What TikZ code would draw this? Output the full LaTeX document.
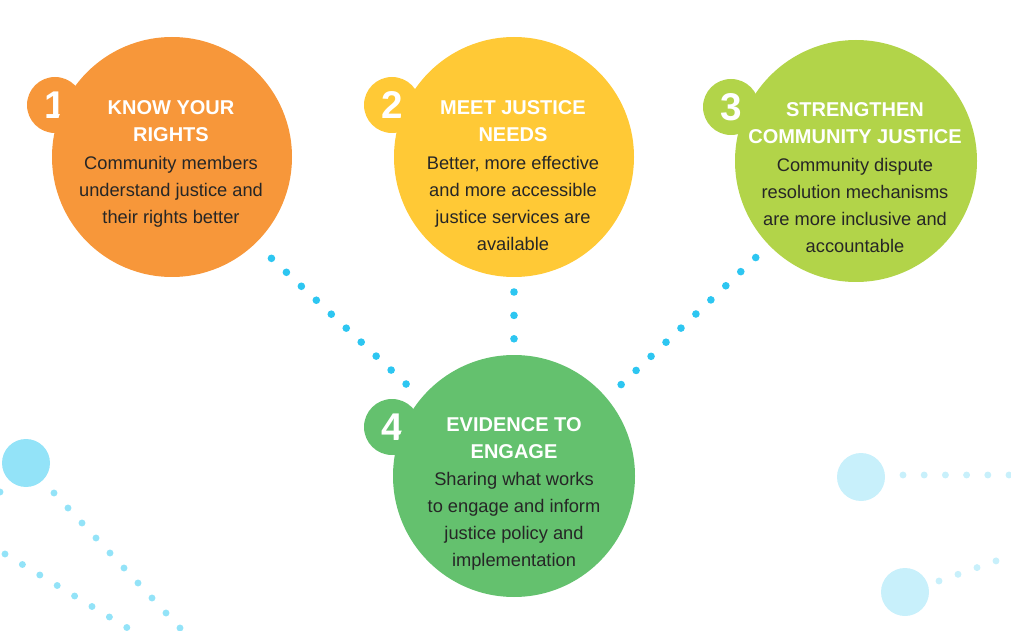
\documentclass[tikz,border=0pt]{standalone}
\usepackage{fontspec}
\setmainfont{Liberation Sans}
\usetikzlibrary{positioning}

\definecolor{rightsorange}{HTML}{F7973A}
\definecolor{needsyellow}{HTML}{FFC936}
\definecolor{communitylime}{HTML}{B2D449}
\definecolor{evidencegreen}{HTML}{64C16E}
\definecolor{dotblue}{HTML}{2DC6F1}
\definecolor{paleblue}{HTML}{93E3F8}
\definecolor{faintblue}{HTML}{C8F0FB}
\definecolor{bodytext}{HTML}{262626}

\begin{document}
\begin{tikzpicture}[x=0.75pt,y=-0.75pt,
			bubble/.style={circle,inner sep=0pt,outer sep=0pt,minimum size=180pt},
			badge/.style={circle,inner sep=0pt,minimum size=42pt,text=white,
				font=\fontsize{29}{30}\selectfont\bfseries},
			title/.style={align=center,text=white,inner sep=0pt,anchor=base,
				font=\fontsize{15}{20.25}\selectfont\bfseries},
			body/.style={align=center,text=bodytext,inner sep=0pt,
				font=\fontsize{13.7}{20.1}\selectfont},
			dotline/.style={draw=dotblue,line width=5.7pt,line cap=round}]
			
			\useasboundingbox (0,0) rectangle (1011,631);
			\clip (0,0) rectangle (1011,631);
			
			% background decoration
			\fill[paleblue] (26,463) circle (18pt);
			\fill[paleblue] (0,492) circle (2.6pt);
			\foreach \k in {0,...,9}
				\fill[paleblue] (54+14*\k,493+15*\k) circle (2.6pt);
			\foreach \k in {0,...,8}
				\fill[paleblue] (5+17.4*\k,554+10.5*\k) circle (2.6pt);
			
			\fill[faintblue] (861,477) circle (18pt);
			\foreach \k in {0,...,5}
				\fill[faintblue] (903+21.2*\k,475) circle (2.6pt);
			\fill[faintblue] (905,592) circle (18pt);
			\foreach \k in {0,...,3}
				\fill[faintblue] (939+19*\k,581-6.7*\k) circle (2.6pt);
			
			% the four outcomes
			\node[badge,fill=rightsorange] (knowbadge) at (55,105) {1};
			\node[bubble,fill=rightsorange] (know) at (172,157) {};
			
			\node[badge,fill=needsyellow] (meetbadge) at (392,105) {2};
			\node[bubble,fill=needsyellow] (meet) at (514,157) {};
			
			\node[badge,fill=communitylime] (strengthbadge) at (731,107) {3};
			\node[bubble,fill=communitylime,minimum size=181.5pt] (strength) at (856,161) {};
			
			\node[badge,fill=evidencegreen] (evidbadge) at (392,427) {4};
			\node[bubble,fill=evidencegreen,minimum size=181.5pt] (evid) at (514,476) {};
			
			% base is the last title line
			\node[title] (knowtitle) at (171,142) {KNOW YOUR\\RIGHTS};
			\node[body,below=10.5pt of knowtitle] (knowtext)
				{Community members\\understand justice and\\their rights better};
			
			\node[title] (meettitle) at (513,142) {MEET JUSTICE\\NEEDS};
			\node[body,below=10.5pt of meettitle] (meettext)
				{Better, more effective\\and more accessible\\justice services are\\available};
			
			\node[title] (strengthtitle) at (855,144) {STRENGTHEN\\COMMUNITY JUSTICE};
			\node[body,below=10.5pt of strengthtitle] (strengthtext)
				{Community dispute\\resolution mechanisms\\are more inclusive and\\accountable};
			
			\node[title] (evidtitle) at (514,458) {EVIDENCE TO\\ENGAGE};
			\node[body,below=10.5pt of evidtitle] (evidtext)
				{Sharing what works\\to engage and inform\\justice policy and\\implementation};
			
			% dotted links
			\draw[dotline,dash pattern=on 0pt off 15.35pt,shorten <=16.5pt,shorten >=15.45pt]
				(know.-46) -- (evid.140);
			\draw[dotline,dash pattern=on 0pt off 17.55pt,shorten <=11.25pt,shorten >=12pt]
				(meet.south) -- (evid.north);
			\draw[dotline,dash pattern=on 0pt off 15.42pt,shorten <=13.65pt,shorten >=14.7pt]
				(strength.224.4) -- (evid.40);
			
		\end{tikzpicture}
\end{document}
